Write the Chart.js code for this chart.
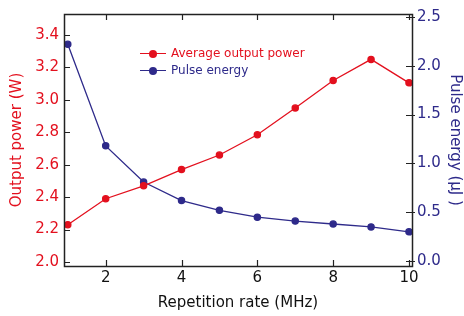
<!DOCTYPE html>
<html>
<head>
<meta charset="utf-8">
<script src="https://cdn.jsdelivr.net/npm/chart.js@4"></script>
<style>
  html, body { margin: 0; padding: 0; background: #fff; }
  #wrap { position: relative; width: 464px; height: 316px; }
  #legend { position: absolute; left: 140px; top: 45px; font: 12px "DejaVu Sans", sans-serif; }
  #legend div { height: 17px; line-height: 17px; white-space: nowrap; }
  #legend .swatch { display: inline-block; position: relative; width: 26px; height: 17px; vertical-align: top; margin-right: 5px; }
  #legend .swatch i { position: absolute; left: 0; right: 0; top: 8px; height: 1.4px; }
  #legend .swatch b { position: absolute; left: 9px; top: 4.5px; width: 8px; height: 8px; border-radius: 50%; }
</style>
</head>
<body>
<div id="wrap">
  <canvas id="chart" width="464" height="316"></canvas>
  <div id="legend"></div>
</div>
<script>
// values
const repRate = [1, 2, 3, 4, 5, 6, 7, 8, 9, 10];
const avgPower = [2.23, 2.39, 2.47, 2.57, 2.66, 2.785, 2.95, 3.12, 3.25, 3.105];
const pulseEnergy = [2.22, 1.18, 0.81, 0.62, 0.52, 0.45, 0.41, 0.38, 0.35, 0.30];
const xTicks = [2, 4, 6, 8, 10];
const powerTicks = [2.0, 2.2, 2.4, 2.6, 2.8, 3.0, 3.2, 3.4];
const energyTicks = [0.0, 0.5, 1.0, 1.5, 2.0, 2.5];

const RED = '#e3101e';
const BLUE = '#2e2a8a';
const FONT = '"DejaVu Sans", sans-serif';

const pts = (ys) => repRate.map((x, i) => ({ x, y: ys[i] }));
const fixTicks = (list) => (scale) => { scale.ticks = list.map(v => ({ value: v })); };

// inward tick marks and the frame, drawn from the scales
const frameTicks = {
    id: 'frameTicks',
    afterDraw(chart) {
        const { ctx, chartArea: a, scales } = chart;
        const len = 6;
        ctx.save();
        ctx.strokeStyle = '#222';
        ctx.lineWidth = 1.2;
        ctx.beginPath();
        scales.x.ticks.forEach(t => {
            const px = Math.round(scales.x.getPixelForValue(t.value)) + 0.5;
            ctx.moveTo(px, a.bottom); ctx.lineTo(px, a.bottom - len);
            ctx.moveTo(px, a.top); ctx.lineTo(px, a.top + len);
        });
        scales.y.ticks.forEach(t => {
            const py = Math.round(scales.y.getPixelForValue(t.value)) + 0.5;
            ctx.moveTo(a.left, py); ctx.lineTo(a.left + len, py);
        });
        scales.y1.ticks.forEach(t => {
            const py = Math.round(scales.y1.getPixelForValue(t.value)) + 0.5;
            ctx.moveTo(a.right - len, py); ctx.lineTo(a.right + 3, py);
        });
        ctx.stroke();
        ctx.lineWidth = 1.5;
        ctx.strokeRect(Math.round(a.left) + 0.5, Math.round(a.top) + 0.5,
            Math.round(a.right - a.left), Math.round(a.bottom - a.top));
        ctx.restore();
    }
};

const chart = new Chart(document.getElementById('chart'), {
    type: 'line',
    data: {
        datasets: [
            {
                label: 'Average output power',
                data: pts(avgPower),
                borderColor: RED,
                backgroundColor: RED,
                borderWidth: 1.3,
                pointRadius: 3.1,
                yAxisID: 'y',
            },
            {
                label: 'Pulse energy',
                data: pts(pulseEnergy),
                borderColor: BLUE,
                backgroundColor: BLUE,
                borderWidth: 1.3,
                pointRadius: 3.1,
                yAxisID: 'y1',
            }
        ]
    },
    options: {
        responsive: false,
        animation: false,
        layout: { padding: { top: 13, left: 0, right: 0, bottom: 0 } },
        plugins: { legend: { display: false }, tooltip: { enabled: false } },
        scales: {
            x: {
                type: 'linear',
                min: 0.9,
                max: 10.08,
                afterBuildTicks: fixTicks(xTicks),
                afterFit(s) { s.height = 50; },
                grid: { display: false, drawTicks: false },
                border: { display: false },
                ticks: { color: '#111', font: { family: FONT, size: 15 }, padding: 3 },
                title: { display: true, text: 'Repetition rate (MHz)', color: '#111',
                         font: { family: FONT, size: 15 }, padding: { top: 0 } }
            },
            y: {
                position: 'left',
                min: 1.975,
                max: 3.53,
                afterBuildTicks: fixTicks(powerTicks),
                afterFit(s) { s.width = 64; },
                grid: { display: false, drawTicks: false },
                border: { display: false },
                ticks: { color: RED, font: { family: FONT, size: 15 }, padding: 5,
                         callback: v => v.toFixed(1) },
                title: { display: true, text: 'Output power (W)', color: RED,
                         font: { family: FONT, size: 15 }, padding: { top: 8 } }
            },
            y1: {
                position: 'right',
                min: -0.05,
                max: 2.53,
                afterBuildTicks: fixTicks(energyTicks),
                afterFit(s) { s.width = 52; },
                grid: { display: false, drawTicks: false },
                border: { display: false },
                ticks: { color: BLUE, font: { family: FONT, size: 15 }, padding: 5,
                         callback: v => v.toFixed(1) },
                title: { display: true, text: 'Pulse energy (\u03bcJ )', color: BLUE,
                         font: { family: FONT, size: 15 }, padding: { top: 0 } }
            }
        }
    },
    plugins: [frameTicks]
});

// legend inside the plot, built from the datasets
document.getElementById('legend').innerHTML = chart.data.datasets.map(ds =>
    `<div style="color:${ds.borderColor}"><span class="swatch"><i style="background:${ds.borderColor}"></i>` +
    `<b style="background:${ds.borderColor}"></b></span>${ds.label}</div>`
).join('');
</script>
</body>
</html>
